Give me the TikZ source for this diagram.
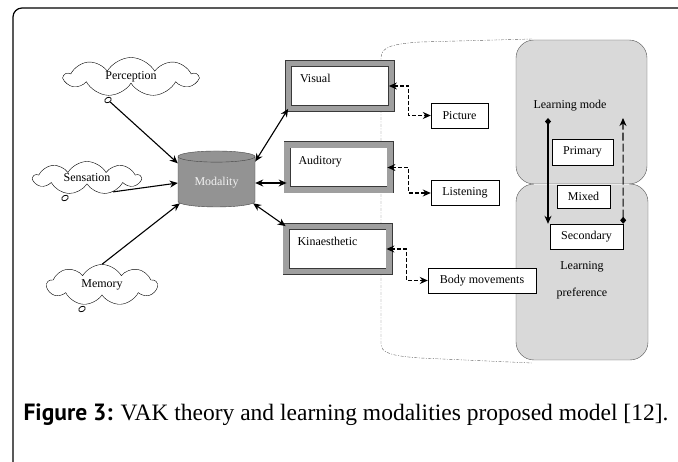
\documentclass[tikz,border=0pt]{standalone}
\usepackage{fontspec}
\setmainfont{Liberation Serif}
\newfontfamily\figlabelfont{PT Sans}
\usetikzlibrary{shapes.geometric, shapes.symbols, arrows.meta}

\tikzstyle{thought} = [cloud, cloud puffs=9, cloud puff arc=120, aspect=3.4, draw=black, fill=white, inner sep=0pt]
\tikzstyle{bubble} = [ellipse, draw=black, thick, fill=white, inner sep=0pt, minimum width=7pt, minimum height=5pt, rotate=30]
\tikzstyle{store} = [cylinder, shape border rotate=90, aspect=0.22, draw=gray!55!black, fill=gray!85, text=white!90!gray, minimum width=77pt, minimum height=56pt]
\tikzstyle{sense} = [rectangle, draw=gray!45!black, double=gray!75, double distance=5.4pt, line width=0.8pt, fill=white, minimum width=103pt, minimum height=45pt, text width=80pt, align=left, text height=8pt, text depth=14pt]
\tikzstyle{term} = [rectangle, draw=black, fill=white, minimum height=25pt, inner sep=3pt]
\tikzstyle{blob} = [rectangle, rounded corners=18pt, draw=gray!65!black, fill=gray!30]
\tikzstyle{bracket} = [gray!80!black, dash pattern=on 3pt off 1.5pt on 1pt off 1.5pt, thin]
\tikzstyle{arrow} = [line width=1.1pt,-{Stealth[length=8pt,width=7pt]}]
\tikzstyle{twoway} = [line width=1.1pt,{Stealth[length=8pt,width=7pt]}-{Stealth[length=8pt,width=7pt]}]
\tikzstyle{dasharrow} = [line width=1.1pt,dash pattern=on 4pt off 2pt,{Stealth[length=8pt,width=7pt]}-{Stealth[length=8pt,width=7pt]}]
\tikzstyle{modearrow} = [line width=1.1pt,{Diamond[length=7pt,width=6pt]}-{Stealth[length=8pt,width=7pt]}]

\begin{document}
\begin{tikzpicture}[x=1pt, y=-1pt, font=\fontsize{12}{14}\selectfont]
    \useasboundingbox (0,0) rectangle (678,462);
    \draw [line width=1.2pt, rounded corners=9pt] (13,8) rectangle (700,480);

    % learning side
    \draw [bracket] (532,39) -- (420,42) .. controls (392,44) and (381,47) .. (381,58) -- (381,344) .. controls (381,353) and (392,356) .. (420,358) -- (532,363);
    \node (modeblob) [blob, minimum width=131pt, minimum height=144pt] at (581.5,112) {};
    \node (prefblob) [blob, minimum width=132pt, minimum height=176pt] at (582,272) {};
    \draw [gray!15, line width=1.2pt] ([xshift=18pt]modeblob.south west) -- ([xshift=-18pt]modeblob.south east);
    \node (modetext) at (570,106) {Learning mode};
    \node (preftext) [align=center] at (582,280) {Learning\\[13pt]preference};

    \node (primary) [term, minimum width=61pt, minimum height=26pt] at (582.5,152) {Primary};
    \node (mixed) [term, minimum width=53pt, minimum height=23pt] at (583.5,196.5) {Mixed};
    \node (secondary) [term, minimum width=73pt, minimum height=25pt] at (586.5,236.5) {Secondary};
    \coordinate (modeleft) at (548,118);
    \coordinate (moderight) at (623,118);
    \draw [modearrow] (modeleft) -- (modeleft |- secondary.north);
    \draw [modearrow, dash pattern=on 8pt off 3pt] (secondary.north east) -- (moderight);

    % inputs
    \node (perception) [thought, minimum width=133pt, minimum height=39pt] at (131,77) {Perception};
    \node (sensation) [thought, minimum width=107pt, minimum height=33pt] at (87,178) {Sensation};
    \node (memory) [thought, minimum width=110pt, minimum height=41pt] at (102,285) {Memory};
    \node (percbub) [bubble] at (108,100) {};
    \node (sensbub) [bubble] at (65,198) {};
    \node (memobub) [bubble] at (82,309) {};

    \node (modality) [store] at (216.5,183) {Modality};

    % senses
    \node (visual) [sense] at (340,86) {Visual};
    \node (auditory) [sense] at (338.5,167.5) {Auditory};
    \node (kinaesthetic) [sense] at (337.5,249) {Kinaesthetic};

    \node (picture) [term, minimum width=57pt] at (459.5,115.5) {Picture};
    \node (listening) [term, minimum width=68pt] at (465,193) {Listening};
    \node (body) [term, minimum width=108pt] at (482,280.5) {Body movements};

    \draw [arrow] (percbub) -- (modality.153);
    \draw [arrow] (sensation.-28) -- (modality.west);
    \draw [arrow] (memory.north) -- (modality.-151);

    \draw [twoway] (modality.29) -- (visual.south west);
    \draw [twoway] (modality.east) -- (modality.east -| auditory.west);
    \draw [twoway] (modality.-29) -- (kinaesthetic.north west);

    \draw [dasharrow] ([xshift=-3pt]visual.east) -- ([xshift=17pt]visual.east) |- (picture.west);
    \draw [dasharrow] ([xshift=-3pt]auditory.east) -- ([xshift=18pt]auditory.east) |- (listening.west);
    \draw [dasharrow] ([xshift=-3pt]kinaesthetic.east) -- ([xshift=17pt]kinaesthetic.east) |- (body.west);

    \node (caption) [anchor=base west, font=\fontsize{23.5}{26}\selectfont] at (20,421) {{\figlabelfont\bfseries Figure 3:} VAK theory and learning modalities proposed model [12].};
\end{tikzpicture}
\end{document}
